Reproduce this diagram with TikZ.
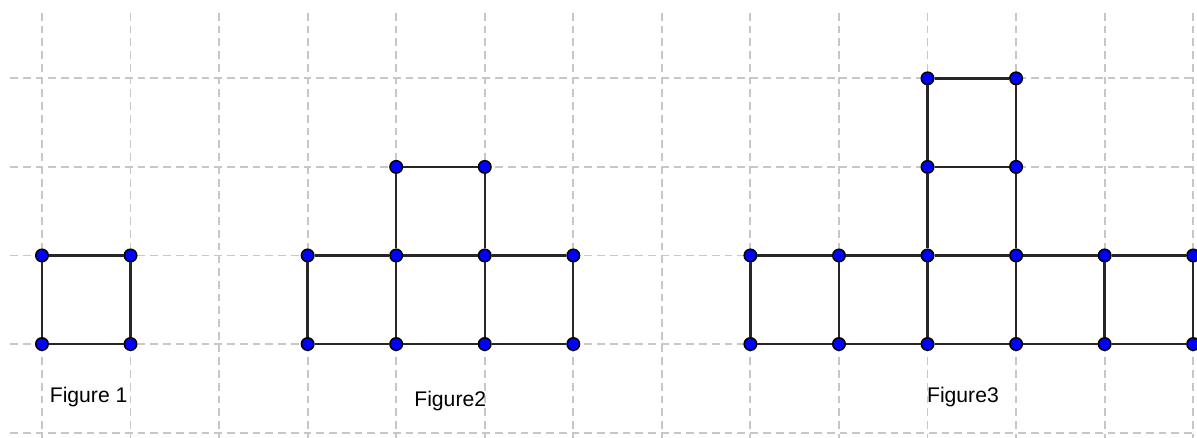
\documentclass[tikz,border=0pt]{standalone}
\usepackage{fontspec}
\setmainfont{Liberation Sans}

\begin{document}
\begin{tikzpicture}[line cap=butt]

    \colorlet{gridcolor}{black!22}
    \colorlet{dotcolor}{blue}
    \colorlet{edgecolor}{black!85}

    \tikzset{
      gridline/.style={gridcolor,line width=0.6pt,dash pattern=on 2.5pt off 1.6pt},
      dot/.style={circle,draw=black,fill=dotcolor,line width=0.5pt,inner sep=0pt,minimum size=4pt},
      edge/.style={edgecolor,line width=0.75pt},
      caption/.style={font=\fontsize{6.8}{8}\selectfont}
    }

    \useasboundingbox (-0.474,-1.05) rectangle (13.043,3.885);

    % dashed grid
    \foreach \x in {0,...,13}
      \draw[gridline] (\x,3.74) -- (\x,-1.1);
    \foreach \y in {-1,...,3}
      \draw[gridline] (-0.36,\y) -- (13,\y);

    % dots
    \foreach \x/\y in {0/0,1/0,0/1,1/1,
                       3/0,4/0,5/0,6/0,3/1,4/1,5/1,6/1,4/2,5/2,
                       8/0,9/0,10/0,11/0,12/0,13/0,8/1,9/1,10/1,11/1,12/1,13/1,
                       10/2,11/2,10/3,11/3}
      \node[dot] (d\x-\y) at (\x,\y) {};

    % figure 1
    \draw[edge] (d0-0) -- (d1-0) -- (d1-1) -- (d0-1) -- (d0-0);
    \node[caption] (fig1) at (0.527,-0.6) {Figure 1};

    % figure 2
    \draw[edge] (d3-0) -- (d4-0) -- (d5-0) -- (d6-0);
    \draw[edge] (d3-1) -- (d4-1) -- (d5-1) -- (d6-1);
    \draw[edge] (d3-0) -- (d3-1);
    \draw[edge] (d4-0) -- (d4-1) -- (d4-2) -- (d5-2) -- (d5-1) -- (d5-0);
    \draw[edge] (d6-0) -- (d6-1);
    \node[caption] (fig2) at (4.61,-0.64) {Figure2};

    % figure 3
    \draw[edge] (d8-0) -- (d9-0) -- (d10-0) -- (d11-0) -- (d12-0) -- (d13-0);
    \draw[edge] (d8-1) -- (d9-1) -- (d10-1) -- (d11-1) -- (d12-1) -- (d13-1);
    \draw[edge] (d8-0) -- (d8-1);
    \draw[edge] (d9-0) -- (d9-1);
    \draw[edge] (d10-0) -- (d10-1) -- (d10-2) -- (d10-3) -- (d11-3) -- (d11-2) -- (d11-1) -- (d11-0);
    \draw[edge] (d10-2) -- (d11-2);
    \draw[edge] (d12-0) -- (d12-1);
    \draw[edge] (d13-0) -- (d13-1);
    \node[caption] (fig3) at (10.40,-0.6) {Figure3};

\end{tikzpicture}
\end{document}
